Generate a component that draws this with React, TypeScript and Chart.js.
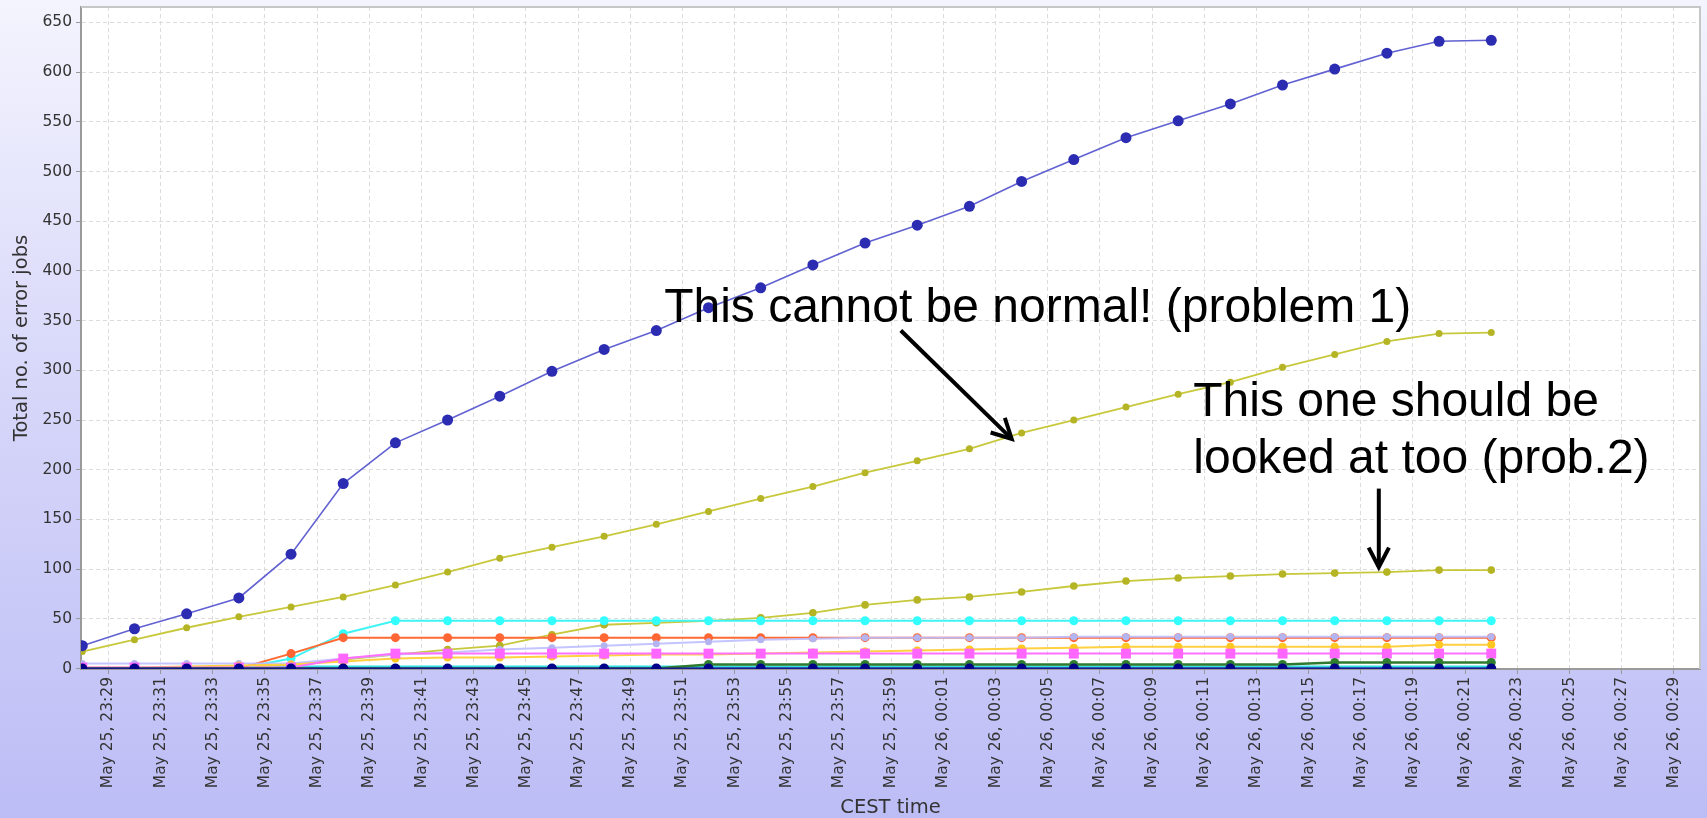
import React, { useEffect, useRef } from "react";
import { Chart, registerables } from "chart.js";
Chart.register(...registerables);

// sample times (CEST)
const times = [
  "23:28", "23:30", "23:32", "23:34", "23:36", "23:38", "23:40", "23:42", "23:44", "23:46",
  "23:48", "23:50", "23:52", "23:54", "23:56", "23:58", "00:00", "00:02", "00:04", "00:06",
  "00:08", "00:10", "00:12", "00:14", "00:16", "00:18", "00:20", "00:22",
];

const tickLabels = [
  "May 25, 23:29", "May 25, 23:31", "May 25, 23:33", "May 25, 23:35", "May 25, 23:37",
  "May 25, 23:39", "May 25, 23:41", "May 25, 23:43", "May 25, 23:45", "May 25, 23:47",
  "May 25, 23:49", "May 25, 23:51", "May 25, 23:53", "May 25, 23:55", "May 25, 23:57",
  "May 25, 23:59", "May 26, 00:01", "May 26, 00:03", "May 26, 00:05", "May 26, 00:07",
  "May 26, 00:09", "May 26, 00:11", "May 26, 00:13", "May 26, 00:15", "May 26, 00:17",
  "May 26, 00:19", "May 26, 00:21", "May 26, 00:23", "May 26, 00:25", "May 26, 00:27",
  "May 26, 00:29",
];

const seriesBlue = [23, 40, 55, 71, 115, 186, 227, 250, 274, 299, 321, 340, 363, 383, 406, 428, 446, 465, 490, 512, 534, 551, 568, 587, 603, 619, 631, 632];
const seriesOlive1 = [17, 29, 41, 52, 62, 72, 84, 97, 111, 122, 133, 145, 158, 171, 183, 197, 209, 221, 237, 250, 263, 276, 288, 303, 316, 329, 337, 338];
const seriesOlive2 = [0, 0, 1, 1, 4, 9, 14, 19, 23, 34, 44, 46, 48, 51, 56, 64, 69, 72, 77, 83, 88, 91, 93, 95, 96, 97, 99, 99];
const seriesCyan = [0, 0, 0, 0, 10, 35, 48, 48, 48, 48, 48, 48, 48, 48, 48, 48, 48, 48, 48, 48, 48, 48, 48, 48, 48, 48, 48, 48];
const seriesOrange = [0, 0, 0, 0, 15, 31, 31, 31, 31, 31, 31, 31, 31, 31, 31, 31, 31, 31, 31, 31, 31, 31, 31, 31, 31, 31, 31, 31];
const seriesLavender = [5, 5, 5, 5, 5, 10, 14, 16, 19, 21, 23, 25, 27, 29, 30, 31, 31, 31, 31, 32, 32, 32, 32, 32, 32, 32, 32, 32];
const seriesPink = [1, 1, 1, 1, 1, 10, 15, 15, 15, 15, 15, 15, 15, 15, 15, 15, 15, 15, 15, 15, 15, 15, 15, 15, 15, 15, 15, 15];
const seriesGold = [1, 1, 2, 3, 4, 7, 10, 11, 11, 12, 13, 14, 14, 15, 16, 17, 18, 19, 20, 21, 22, 22, 22, 22, 22, 22, 24, 24];
const seriesGreen = [0, 0, 0, 0, 0, 0, 0, 0, 0, 0, 0, 0, 4, 4, 4, 4, 4, 4, 4, 4, 4, 4, 4, 4, 6, 6, 6, 6];
const seriesNavy = [0, 0, 0, 0, 0, 0, 0, 0, 0, 0, 0, 0, 0, 0, 0, 0, 0, 0, 0, 0, 0, 0, 0, 0, 0, 0, 0, 0];
const seriesTeal = [0, 0, 0, 0, 2, 2, 2, 2, 2, 2, 2, 2, 2, 2, 2, 2, 2, 2, 2, 2, 2, 2, 2, 2, 2, 2, 2, 2];
const seriesSteel = [0, 0, 0, 0, 0, 0, 0, 0, 0, 0, 0, 0, 0, 0, 0, 0, 0, 0, 0, 0, 0, 0, 0, 0, 0, 0, 0, 0];

// annotation positions in data units (minutes since 23:28, value)
const noteTexts = [
  { lines: ["This cannot be normal! (problem 1)"], at: [22.3, 349] },
  { lines: ["This one should be", "looked at too (prob.2)"], at: [42.58, 254] },
];
const noteArrows = [
  { from: [31.37, 340], to: [35.62, 231] },
  { from: [49.69, 181], to: [49.69, 102] },
];

const toMin = (t: string) => {
  const [h, m] = t.split(":").map(Number);
  return (h * 60 + m - (23 * 60 + 28) + 1440) % 1440;
};
const pts = (vals: number[]) => times.map((t, i) => ({ x: toMin(t), y: vals[i] }));

const frame = {
  id: "frame",
  beforeDraw(chart: any) {
    const { ctx, chartArea: a } = chart;
    ctx.save();
    ctx.fillStyle = "#ffffff";
    ctx.fillRect(a.left, a.top, a.right - a.left, a.bottom - a.top);
    ctx.restore();
  },
  beforeDatasetsDraw(chart: any) {
    const { ctx, chartArea: a } = chart;
    ctx.save();
    ctx.strokeStyle = "#c6c6c6";
    ctx.lineWidth = 2;
    ctx.beginPath();
    ctx.moveTo(a.left, a.top);
    ctx.lineTo(a.right, a.top);
    ctx.lineTo(a.right, a.bottom);
    ctx.stroke();
    ctx.restore();
  },
};

const notes = {
  id: "notes",
  afterDatasetsDraw(chart: any) {
    const { ctx } = chart;
    const xs = chart.scales.x;
    const ys = chart.scales.y;
    ctx.save();
    ctx.fillStyle = "#000";
    ctx.font = '48px "Liberation Sans", Arial, sans-serif';
    ctx.textBaseline = "alphabetic";
    ctx.textAlign = "left";
    for (const n of noteTexts) {
      const px = xs.getPixelForValue(n.at[0]);
      const py = ys.getPixelForValue(n.at[1]);
      n.lines.forEach((l, i) => ctx.fillText(l, px, py + i * 57));
    }
    ctx.strokeStyle = "#000";
    ctx.lineWidth = 4;
    ctx.lineJoin = "miter";
    for (const ar of noteArrows) {
      const x1 = xs.getPixelForValue(ar.from[0]);
      const y1 = ys.getPixelForValue(ar.from[1]);
      const x2 = xs.getPixelForValue(ar.to[0]);
      const y2 = ys.getPixelForValue(ar.to[1]);
      ctx.beginPath();
      ctx.moveTo(x1, y1);
      ctx.lineTo(x2, y2);
      ctx.stroke();
      const ang = Math.atan2(y2 - y1, x2 - x1);
      const L = 22;
      const sp = 0.48;
      ctx.beginPath();
      ctx.moveTo(x2 - L * Math.cos(ang - sp), y2 - L * Math.sin(ang - sp));
      ctx.lineTo(x2, y2);
      ctx.lineTo(x2 - L * Math.cos(ang + sp), y2 - L * Math.sin(ang + sp));
      ctx.stroke();
    }
    ctx.restore();
  },
};

const ds = (
  label: string,
  vals: number[],
  line: string,
  marker: string,
  radius: number,
  width: number,
  style: string = "circle"
) => ({
  label,
  data: pts(vals),
  borderColor: line,
  backgroundColor: marker,
  pointBackgroundColor: marker,
  pointBorderWidth: 0,
  pointRadius: radius,
  pointStyle: style,
  borderWidth: width,
  tension: 0,
});

export default function App() {
  const ref = useRef<HTMLCanvasElement>(null);
  useEffect(() => {
    if (!ref.current) return;
    const tickFont = { family: "'DejaVu Sans', sans-serif", size: 15.5 };
    const titleFont = { family: "'DejaVu Sans', sans-serif", size: 19.5 };
    const chart = new Chart(ref.current, {
      type: "line",
      data: {
        datasets: [
          ds("A", seriesBlue, "rgba(80,80,205,0.9)", "#2c2cb2", 5.5, 1.6),
          ds("J", seriesNavy, "#1a1a8c", "#000088", 5, 2),
          ds("I", seriesGreen, "#2f7a2f", "#2f7f2f", 4.5, 2.5),
          ds("G", seriesPink, "#ff70ff", "#ff66ff", 7, 2, "rect"),
          ds("H", seriesGold, "#ffd040", "#ffc820", 4, 2),
          ds("F", seriesLavender, "rgba(190,190,255,0.9)", "#b4b4f0", 3.5, 2),
          ds("E", seriesOrange, "#ff6a33", "#ff6633", 4.5, 2),
          ds("D", seriesCyan, "#40f4f4", "#33ffff", 4.5, 2),
          ds("C", seriesOlive2, "#c8c83c", "#b4b424", 3.8, 1.8),
          ds("B", seriesOlive1, "#c8c83c", "#b4b424", 3.5, 1.8),
          ds("L", seriesTeal, "#33e0e0", "#33e0e0", 0, 2),
          ds("K", seriesSteel, "#3a5fcc", "#3a5fcc", 0, 3),
        ],
      },
      options: {
        animation: false,
        responsive: false,
        layout: { padding: { top: 4.5, right: 3, left: 0, bottom: 0 } },
        plugins: { legend: { display: false }, tooltip: { enabled: false } },
        scales: {
          x: {
            type: "linear",
            min: -0.05,
            max: 62,
            afterBuildTicks: (s: any) => {
              s.ticks = tickLabels.map((l) => ({ value: toMin(l.split(", ")[1]) }));
            },
            afterFit: (s: any) => {
              s.height = 149;
              s.paddingLeft = 0;
              s.paddingRight = 0;
            },
            ticks: {
              autoSkip: false,
              minRotation: 90,
              maxRotation: 90,
              padding: 3,
              color: "#333",
              font: tickFont,
              callback: (_v: any, i: number) => tickLabels[i],
            },
            grid: { color: "#dcdcdc", lineWidth: 1, tickLength: 5, tickColor: "#999", tickBorderDash: [] },
            border: { display: true, color: "#9a9a9a", width: 2, dash: [4, 3] },
            title: {
              display: true,
              text: "CEST time",
              color: "#333",
              font: titleFont,
              padding: { top: 0, bottom: -2 },
            },
          },
          y: {
            type: "linear",
            min: -0.5,
            max: 665.5,
            afterFit: (s: any) => {
              s.width = 81;
              s.paddingTop = 0;
              s.paddingBottom = 0;
            },
            ticks: { stepSize: 50, includeBounds: false, padding: 4, color: "#333", font: tickFont },
            grid: { color: "#dcdcdc", lineWidth: 1, tickLength: 5, tickColor: "#999", tickBorderDash: [] },
            border: { display: true, color: "#9a9a9a", width: 2, dash: [4, 3] },
            title: {
              display: true,
              text: "Total no. of error jobs",
              color: "#333",
              font: titleFont,
              padding: { top: 10, bottom: 0 },
            },
          },
        },
      },
      plugins: [frame, notes],
    } as any);
    return () => chart.destroy();
  }, []);
  return (
    <div
      style={{
        position: "absolute",
        left: 0,
        top: 0,
        width: 1707,
        height: 818,
        background: "linear-gradient(to bottom, #f4f4fe 0%, #d8d8fa 45%, #bdbdf6 100%)",
      }}
    >
      <canvas ref={ref} width={1707} height={818} />
    </div>
  );
}
